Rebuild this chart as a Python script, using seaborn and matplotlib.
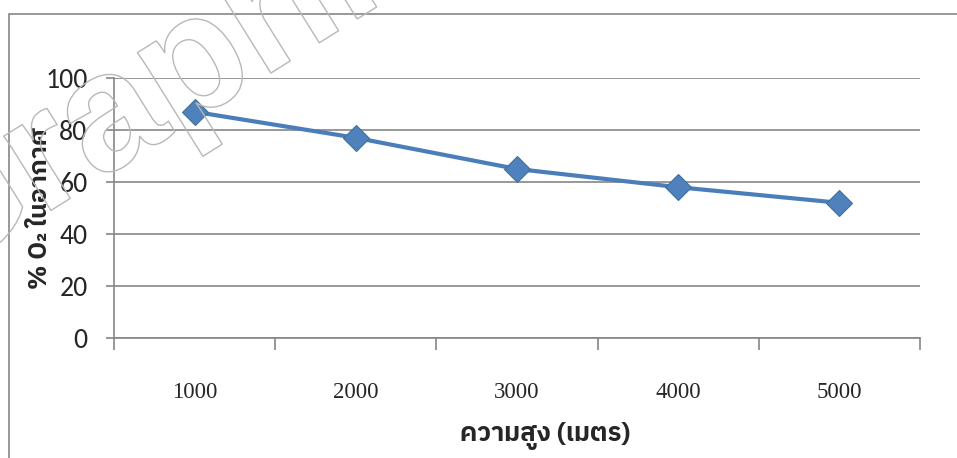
import numpy as np
import pandas as pd
import seaborn as sns
import matplotlib
matplotlib.use("Agg")
import matplotlib.pyplot as plt
import matplotlib.patheffects as pe
from matplotlib.patches import Rectangle

# data
heights = ["1000", "2000", "3000", "4000", "5000"]
o2_percent = [87, 77, 65, 58, 52]
y_ticks = [0, 20, 40, 60, 80, 100]

x_title = "ความสูง (เมตร)"
y_title = "% O₂ ในอากาศ"

sns.set_style("white")
thai = ['IBM Plex Sans Thai', 'Noto Sans Thai', 'DejaVu Sans']
plt.rcParams['font.family'] = thai

grey = "#868686"
blue = "#4A7EBB"

df = pd.DataFrame({"height": heights, "o2": o2_percent})

fig = plt.figure(figsize=(9.57, 4.58), dpi=100)
W, H = 957, 458
ax = fig.add_axes([114 / W, 1 - 338 / H, (920 - 114) / W, (338 - 78) / H])

# outer chart border (runs off the right and bottom edges)
fig.patches.append(Rectangle((8.5 / W, -0.2), 1.5, 1.2 - 13.5 / H,
                             transform=fig.transFigure, fill=False,
                             edgecolor=grey, linewidth=1.2, zorder=0))

# watermark outline text
fig.text(-133 / W, 1 - 280 / H, "Graphic", fontsize=120, family="Liberation Sans",
         fontweight="bold", rotation=32, color="none", ha="left", va="baseline",
         zorder=0.5, path_effects=[pe.Stroke(linewidth=1.0, foreground="#b8b8b8")])

sns.lineplot(data=df, x="height", y="o2", ax=ax, color=blue, linewidth=3.0,
             marker="D", markersize=13, markerfacecolor="#4F81BD",
             markeredgecolor="#41719C", markeredgewidth=0.8, sort=False)

ax.set_ylim(0, 100)
ax.set_yticks(y_ticks)
ax.set_yticklabels([str(v) for v in y_ticks], family=['Carlito', 'Lato', 'DejaVu Sans'],
                   fontsize=20)
ax.set_xlim(-0.5, len(heights) - 0.5)
ax.set_xticks(np.arange(-0.5, len(heights)), labels=[""] * (len(heights) + 1))
ax.set_xticks(np.arange(len(heights)), labels=heights, minor=True)
for lab in ax.get_xticklabels(minor=True):
    lab.set_family(['Liberation Serif', 'DejaVu Serif'])
    lab.set_fontsize(16.5)

ax.grid(axis="y", color=grey, linewidth=1.2)
ax.grid(axis="x", visible=False)
for side in ["top", "right"]:
    ax.spines[side].set_visible(False)
for side in ["left", "bottom"]:
    ax.spines[side].set_color(grey)
    ax.spines[side].set_linewidth(1.2)

ax.tick_params(axis="y", which="major", direction="out", length=6, width=1.2,
               color=grey, pad=13, left=True)
ax.tick_params(axis="x", which="major", direction="out", length=8.5, width=1.2,
               color=grey, bottom=True)
ax.tick_params(axis="x", which="minor", length=0, pad=32)

ax.set_xlabel(x_title, fontsize=18.5, fontweight="bold")
ax.set_ylabel(y_title, fontsize=18, fontweight="bold")
ax.xaxis.set_label_coords((545 - 114) / 806, (338 - 422) / 260)
ax.yaxis.set_label_coords((52 - 114) / 806, 0.5)

fig.savefig("out.png", dpi=100)
